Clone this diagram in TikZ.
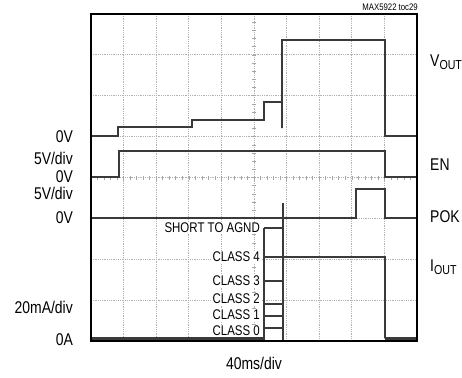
\documentclass[tikz,border=0pt]{standalone}
\usepackage{fontspec}
\setmainfont{Liberation Sans}[FakeStretch=0.82]
\usepackage{tikz}
\definecolor{trc}{HTML}{3A3A3A}
\newcommand\lowtxt[1]{\raisebox{-0.3ex}{\fontsize{13}{13}\selectfont #1}}

\begin{document}
\begin{tikzpicture}[x=1pt,y=-1pt,
	trace/.style={trc,line width=1.8pt},
	lbl/.style={inner sep=0pt,font=\fontsize{17}{17}\selectfont},
	cls/.style={inner sep=1pt,fill=white,font=\fontsize{14}{14}\selectfont}]
			\useasboundingbox (0,0) rectangle (462,377);
			% grid
			\foreach \index in {1,2, ..., 9} {\draw[gray!60,densely dotted,line width=.8pt] (91+32.6*\index,14) -- +(0,327);};
			\foreach \index in {1,2, ..., 7} {\draw[gray!60,densely dotted,line width=.8pt] (91,14+40.875*\index) -- +(326,0);};
			\foreach \index in {1,2, ..., 39} {\draw[gray!70,line width=.6pt] (252,14+8.175*\index) -- +(4,0);};
			\foreach \index in {1,2, ..., 49} {\draw[gray!70,line width=.6pt] (91+6.52*\index,175.5) -- +(0,4);};
			% labels
			\node[lbl,anchor=east] (l1) at (73,137) {0V};
			\node[lbl,anchor=east] (l2) at (73,158) {5V/div};
			\node[lbl,anchor=east] (l3) at (73,177) {0V};
			\node[lbl,anchor=east] (l4) at (73,193) {5V/div};
			\node[lbl,anchor=east] (l5) at (73,218) {0V};
			\node[lbl,anchor=east] (l6) at (73,307) {20mA/div};
			\node[lbl,anchor=east] (l7) at (73,340) {0A};
			\node[lbl,anchor=west] (vout) at (430,62) {V\lowtxt{OUT}};
			\node[lbl,anchor=west] (en) at (430,165) {EN};
			\node[lbl,anchor=west] (pok) at (430,217) {POK};
			\node[lbl,anchor=west] (iout) at (430,267) {I\lowtxt{OUT}};
			\node[lbl] (tdiv) at (254,363) {40ms/div};
			\node[inner sep=0pt,anchor=east,font=\fontsize{9.5}{9.5}\selectfont] (toc) at (418,7) {MAX5922 toc29};
			\node[cls,anchor=east] (c5) at (261,228) {SHORT TO AGND};
			\node[cls,anchor=east] (c4) at (261,257) {CLASS 4};
			\node[cls,anchor=east] (c3) at (261,281) {CLASS 3};
			\node[cls,anchor=east] (c2) at (261,299) {CLASS 2};
			\node[cls,anchor=east] (c1) at (261,315) {CLASS 1};
			\node[cls,anchor=east] (c0) at (261,331) {CLASS 0};
			% traces
			\draw[trace] (91,136) -- (118,136) -- (118,127) -- (192,127) -- (192,120) -- (264,120) -- (264,102) -- (282,102) -- (282,128) -- (282,40) -- (385,40) -- (385,136) -- (417,136);
			\draw[trace] (91,177) -- (119,177) -- (119,151) -- (385,151) -- (385,177) -- (417,177);
			\draw[trace] (91,218) -- (356,218) -- (356,189) -- (385,189) -- (385,218) -- (417,218);
			\draw[trace,line width=3pt] (91,338.5) -- (263,338.5);
			\draw[trace] (264,341) -- (264,228);
			\foreach \lev in {228,281,304,316,328} {\draw[trace] (264,\lev) -- (283,\lev);};
			\draw[trace] (283,203) -- (283,341);
			\draw[trace] (264,257) -- (385,257) -- (385,338);
			\draw[trace,line width=3pt] (385,338.5) -- (417,338.5);
			\draw[line width=2.5pt] (91,14) rectangle (417,341);
		\end{tikzpicture}
\end{document}
